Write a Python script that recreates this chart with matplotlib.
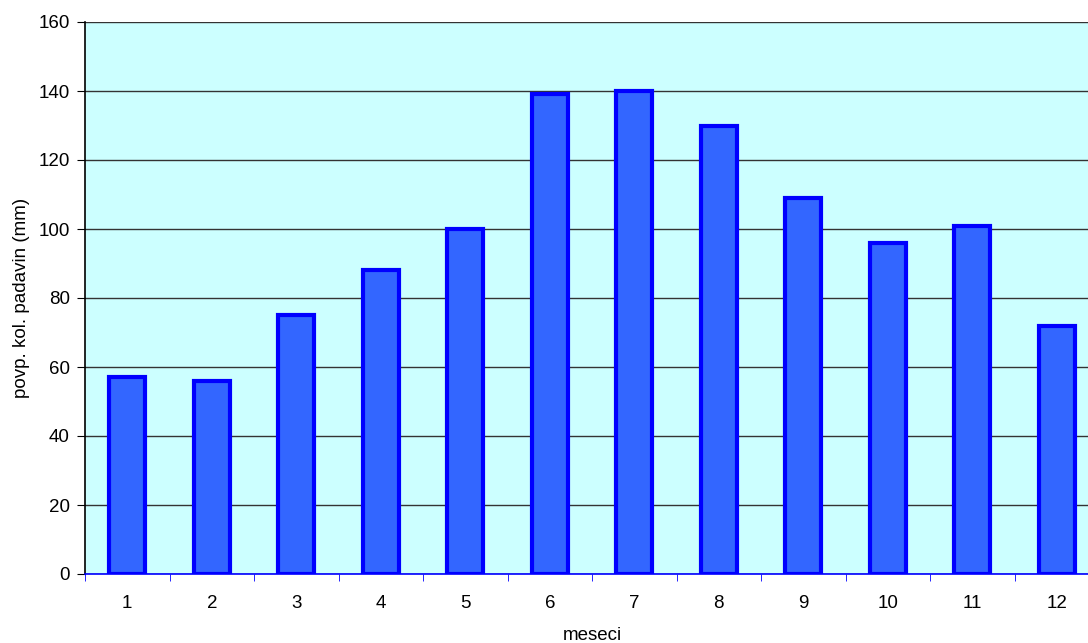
import numpy as np
import matplotlib
matplotlib.use("Agg")
from matplotlib import pyplot as plt

plt.rcParams['font.family'] = ['Liberation Sans', 'DejaVu Sans']

meseci = ['1', '2', '3', '4', '5', '6', '7', '8', '9', '10', '11', '12']
padavine = [57, 56, 75, 88, 100, 139, 140, 130, 109, 96, 101, 72]

fig = plt.figure(figsize=(10.88, 6.43), dpi=100)
# plot area runs a little past the right edge, like the original
ax = fig.add_axes([85 / 1088, 1 - 574 / 643, 1014 / 1088, 552 / 643])
ax.set_facecolor('#CCFFFF')

x = np.arange(len(meseci))
ax.bar(x, padavine, width=0.43, color='#3366FF', edgecolor='#0000FF', linewidth=3, zorder=3)

ax.set_xlim(-0.5, len(meseci) - 0.5)
ax.set_ylim(0, 160)
ax.set_yticks(range(0, 161, 20))
ax.yaxis.grid(True, color='#333333', linewidth=1, zorder=1)

# category labels in the middle, ticks between categories
ax.set_xticks(x)
ax.set_xticklabels(meseci, fontsize=13.5)
ax.set_xticks(np.arange(-0.5, len(meseci)), minor=True)
ax.tick_params(axis='x', which='major', length=0, pad=15)
ax.tick_params(axis='x', which='minor', length=5, color='#0000FF', direction='out')
ax.tick_params(axis='y', length=6, color='black', labelsize=13.5, pad=5)

for s in ['top', 'right']:
    ax.spines[s].set_visible(False)
ax.spines['left'].set_color('black')
ax.spines['left'].set_linewidth(1.2)
ax.spines['bottom'].set_color('#0000FF')
ax.spines['bottom'].set_linewidth(1.2)
ax.spines['bottom'].set_zorder(4)

ax.set_xlabel('meseci', fontsize=13.5, labelpad=11)
ax.set_ylabel('povp. kol. padavin (mm)', fontsize=13.5, labelpad=6)

fig.savefig('out.png', dpi=100)
